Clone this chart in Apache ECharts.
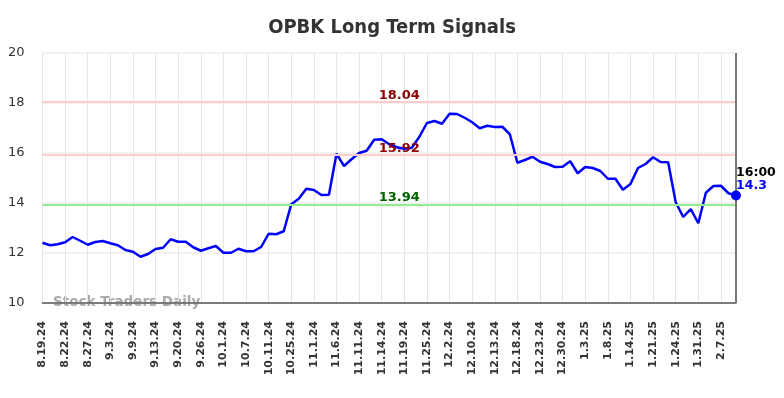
<!DOCTYPE html>
<html>
<head>
<meta charset="utf-8">
<script src="https://cdn.jsdelivr.net/npm/echarts@6/dist/echarts.min.js"></script>
<style>
  html, body { margin: 0; padding: 0; background: #fff; }
  #main { width: 784px; height: 398px; }
</style>
</head>
<body>
<div id="main"></div>
<script>
var dates = [
  '8.19.24', '8.20.24', '8.21.24', '8.22.24', '8.23.24', '8.26.24', '8.27.24', '8.28.24', '8.30.24',
  '9.3.24', '9.4.24', '9.6.24', '9.9.24', '9.10.24', '9.12.24', '9.13.24', '9.17.24', '9.18.24',
  '9.20.24', '9.23.24', '9.24.24', '9.26.24', '9.27.24', '9.30.24', '10.1.24', '10.3.24', '10.4.24',
  '10.7.24', '10.8.24', '10.10.24', '10.11.24', '10.17.24', '10.22.24', '10.25.24', '10.28.24', '10.30.24',
  '11.1.24', '11.4.24', '11.5.24', '11.6.24', '11.7.24', '11.8.24', '11.11.24', '11.12.24', '11.13.24',
  '11.14.24', '11.15.24', '11.18.24', '11.19.24', '11.20.24', '11.22.24', '11.25.24', '11.26.24', '11.29.24',
  '12.2.24', '12.4.24', '12.6.24', '12.10.24', '12.11.24', '12.12.24', '12.13.24', '12.16.24', '12.17.24',
  '12.18.24', '12.19.24', '12.20.24', '12.23.24', '12.24.24', '12.27.24', '12.30.24', '12.31.24', '1.2.25',
  '1.3.25', '1.6.25', '1.7.25', '1.8.25', '1.10.25', '1.13.25', '1.14.25', '1.16.25', '1.17.25',
  '1.21.25', '1.22.25', '1.23.25', '1.24.25', '1.28.25', '1.29.25', '1.31.25', '2.3.25', '2.5.25',
  '2.7.25', '2.10.25', '2.11.25'
];

var prices = [
  12.41, 12.31, 12.35, 12.43, 12.64, 12.49, 12.33, 12.44, 12.48,
  12.39, 12.31, 12.12, 12.05, 11.85, 11.96, 12.16, 12.21, 12.55,
  12.45, 12.45, 12.23, 12.09, 12.19, 12.28, 12.01, 12.01, 12.17,
  12.07, 12.07, 12.24, 12.77, 12.75, 12.87, 13.95, 14.17, 14.57,
  14.52, 14.32, 14.33, 15.97, 15.48, 15.75, 16.00, 16.09, 16.53,
  16.55, 16.35, 16.23, 16.17, 16.21, 16.65, 17.20, 17.28, 17.17,
  17.57, 17.56, 17.41, 17.23, 16.99, 17.09, 17.04, 17.05, 16.75,
  15.61, 15.72, 15.85, 15.65, 15.56, 15.44, 15.45, 15.67, 15.19,
  15.44, 15.40, 15.28, 14.97, 14.97, 14.53, 14.76, 15.40, 15.56,
  15.83, 15.64, 15.63, 14.03, 13.44, 13.76, 13.19, 14.41, 14.68,
  14.69, 14.39, 14.30
];

var resistanceLevels = [18.04, 15.92];
var supportLevels = [13.94];
var lastTime = '16:00';

var yTicks = [10, 12, 14, 16, 18, 20];

var chart = echarts.init(document.getElementById('main'));

var lastIdx = prices.length - 1;

var markLineData = [];
resistanceLevels.forEach(function (v) {
  markLineData.push({
    yAxis: v,
    lineStyle: { color: '#ffcccc', width: 2, type: 'solid' },
    label: { color: '#8b0000' }
  });
});
supportLevels.forEach(function (v) {
  markLineData.push({
    yAxis: v,
    lineStyle: { color: '#90ee90', width: 2, type: 'solid' },
    label: { color: '#006400' }
  });
});

chart.setOption({
  animation: false,
  backgroundColor: '#fff',
  title: {
    text: 'OPBK Long Term Signals',
    left: 'center',
    top: 13,
    textStyle: {
      fontFamily: 'DejaVu Sans Condensed',
      fontWeight: 'bold',
      fontSize: 20,
      color: '#333'
    }
  },
  grid: { left: 42.5, right: 48, top: 53, bottom: 95 },
  graphic: [{
    type: 'text',
    left: 53,
    top: 295,
    style: {
      text: 'Stock Traders Daily',
      fill: '#aaa',
      font: 'bold 13.5px "DejaVu Sans"'
    }
  }],
  xAxis: {
    type: 'category',
    data: dates,
    boundaryGap: false,
    axisLine: { lineStyle: { color: '#555', width: 1.5 } },
    axisTick: { show: false },
    axisLabel: {
      interval: 2,
      rotate: 90,
      margin: 18,
      fontFamily: 'DejaVu Sans',
      fontWeight: 'bold',
      fontSize: 11,
      color: '#333'
    },
    splitLine: { show: true, interval: 2, lineStyle: { color: '#e6e6e6', width: 1 } }
  },
  yAxis: {
    type: 'value',
    min: yTicks[0],
    max: yTicks[yTicks.length - 1],
    interval: 2,
    axisLine: { show: false },
    axisTick: { show: false },
    axisLabel: {
      margin: 18,
      fontFamily: 'DejaVu Sans',
      fontSize: 13,
      color: '#333'
    },
    splitLine: { lineStyle: { color: '#eeeeee', width: 1.5 } }
  },
  series: [{
    type: 'line',
    data: prices,
    showSymbol: false,
    symbol: 'none',
    lineStyle: { color: '#0000ff', width: 2.5 },
    itemStyle: { color: '#0000ff' },
    markLine: {
      silent: true,
      symbol: 'none',
      label: {
        position: 'middle',
        offset: [10, 5],
        fontFamily: 'DejaVu Sans',
        fontWeight: 'bold',
        fontSize: 13
      },
      data: markLineData.concat([{
        xAxis: lastIdx,
        lineStyle: { color: '#777', width: 2, type: 'solid' },
        label: { show: false }
      }])
    },
    markPoint: {
      silent: true,
      symbol: 'circle',
      symbolSize: 10,
      itemStyle: { color: '#0000ff' },
      label: {
        show: true,
        position: [5, -24],
        align: 'left',
        formatter: '{t|' + lastTime + '}\n{v|' + prices[lastIdx] + '}',
        rich: {
          t: { fontFamily: 'DejaVu Sans', fontWeight: 'bold', fontSize: 12.5, color: '#000', lineHeight: 13 },
          v: { fontFamily: 'DejaVu Sans', fontWeight: 'bold', fontSize: 12.5, color: '#0000ff', lineHeight: 13 }
        }
      },
      data: [{ coord: [lastIdx, prices[lastIdx]] }]
    }
  }]
});
</script>
</body>
</html>
